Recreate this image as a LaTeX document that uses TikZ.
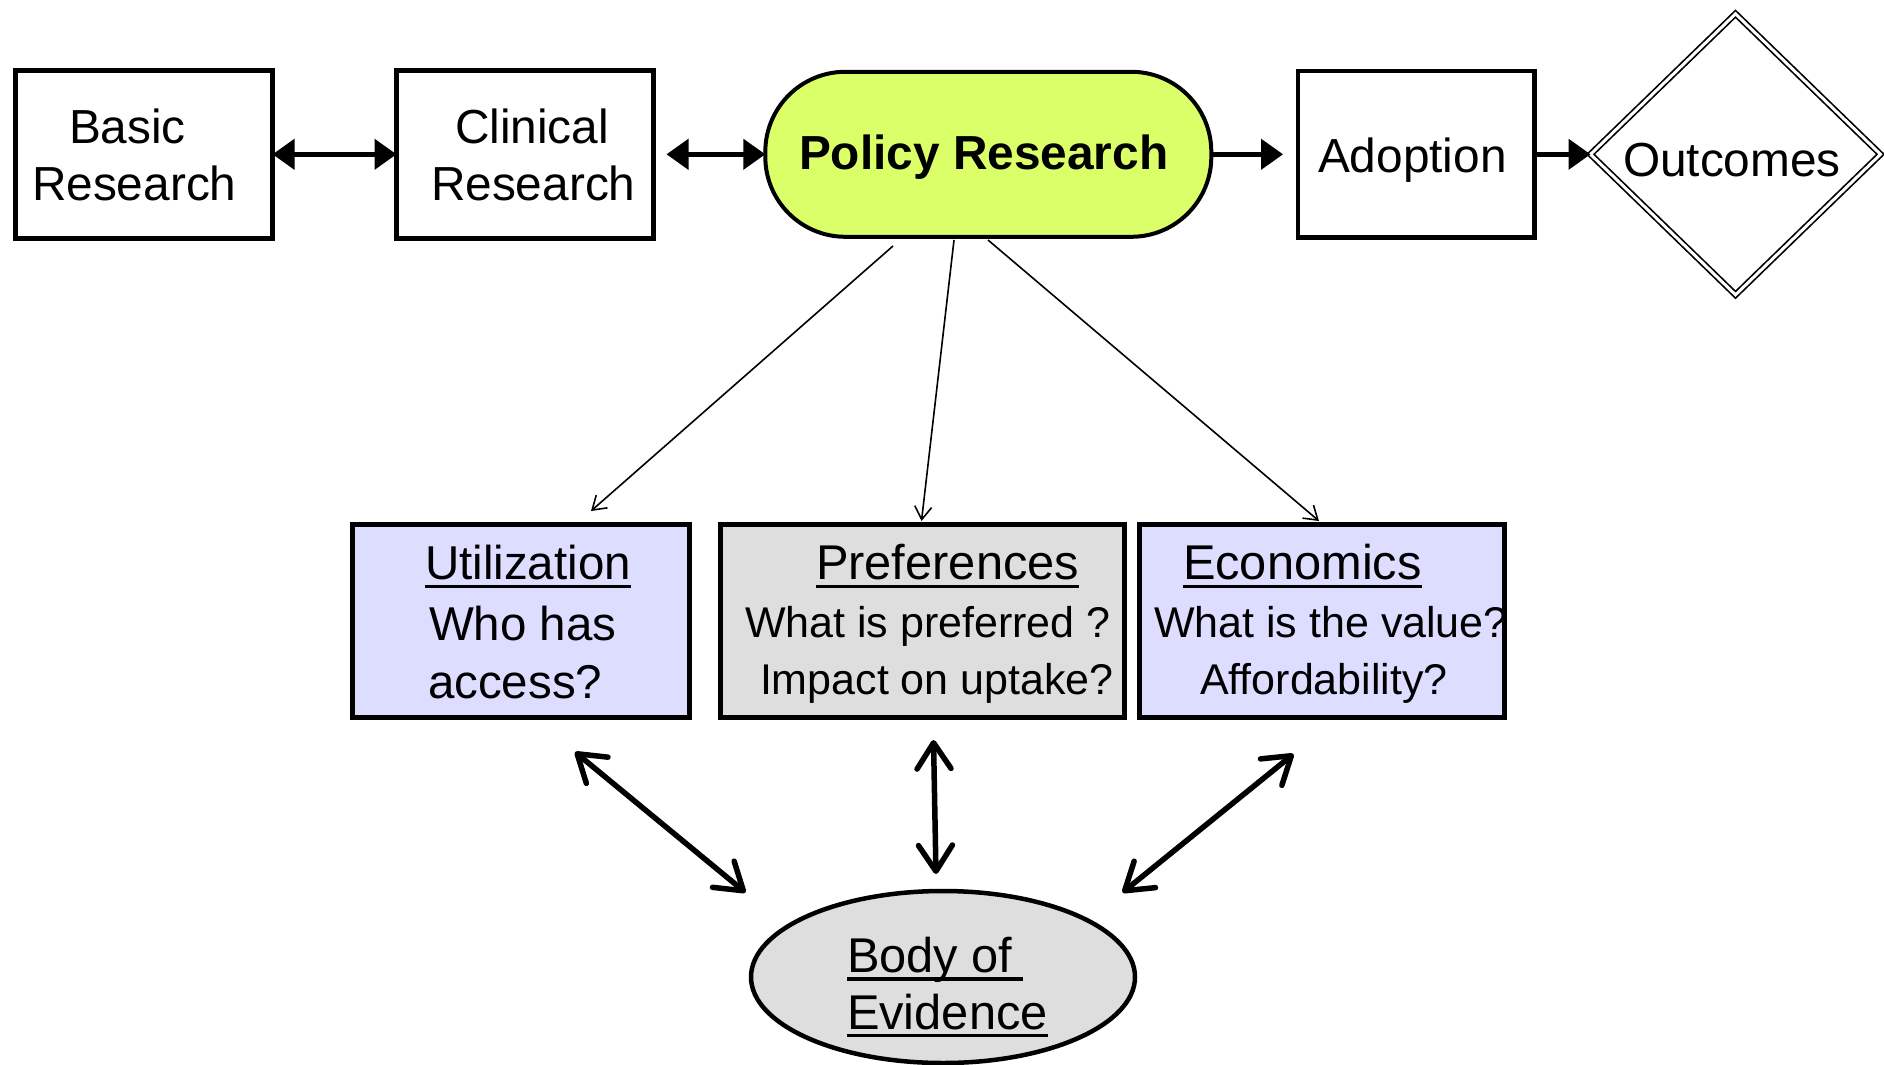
\documentclass[tikz,border=0pt]{standalone}
\usepackage{fontspec}
\setmainfont{Liberation Sans}
\usetikzlibrary{arrows.meta,shapes.geometric}
\definecolor{polgreen}{RGB}{219,255,104}
\definecolor{lav}{RGB}{221,221,255}
\definecolor{lgray}{RGB}{222,222,222}
\begin{document}
\begin{tikzpicture}[x=1pt,y=-1pt,
  box/.style={draw, line width=5pt, rectangle, inner sep=0pt, outer sep=0pt},
  txt/.style={inner sep=0pt, outer sep=0pt, anchor=base west},
  fA/.style={font=\fontsize{47.8}{55}\selectfont},
  fB/.style={font=\fontsize{47.8}{55}\selectfont\bfseries},
  fH/.style={font=\fontsize{48.8}{56}\selectfont},
  fU/.style={font=\fontsize{47.5}{55}\selectfont},
  fS/.style={font=\fontsize{43}{50}\selectfont},
  ul/.style={line width=3.5pt},
  trib/.style={line width=4.5pt, arrows={Triangle[length=22pt,width=30pt]-Triangle[length=22pt,width=30pt]}},
  trie/.style={line width=4.5pt, arrows={-Triangle[length=22pt,width=30pt]}},
  thinarr/.style={line width=1.6pt, arrows={-Straight Barb[length=13pt,width=17pt]}},
  dbl/.style={line width=5.5pt, line cap=round, arrows={Straight Barb[length=26pt,width=34pt,round]-Straight Barb[length=26pt,width=34pt,round]}}
]
\useasboundingbox (0,0) rectangle (1884,1065);

% top row
\node[box, minimum width=256.7pt, minimum height=167.5pt] (bb) at (144.2,154.3) {};
\node[box, minimum width=257pt, minimum height=167.5pt] (cb) at (525,154.3) {};
\node[draw, line width=4pt, fill=polgreen, rounded corners=80pt, minimum width=446pt, minimum height=165pt, inner sep=0pt, outer sep=0pt] (pr) at (988.3,154.3) {};
\node[box, line width=4.5pt, minimum width=236.5pt, minimum height=166.5pt] (ad) at (1416.3,154.3) {};
\node[draw, diamond, line width=1.7pt, double, double distance=3pt, minimum width=290pt, minimum height=281pt, inner sep=0pt, outer sep=0pt] (oc) at (1735.5,154.3) {};

\node[txt,fA] (tb1) at (69,143) {Basic};
\node[txt,fA] (tb2) at (32,200) {Research};
\node[txt,fA] (tc1) at (455,143) {Clinical};
\node[txt,fA] (tc2) at (431,200) {Research};
\node[txt,fB] (tpr) at (799,169) {Policy Research};
\node[txt,fA] (tad) at (1318,172) {Adoption};
\node[txt,fA] (tout) at (1623,176) {Outcomes};

% top connectors
\draw[trib] (bb.east) -- (cb.west);
\draw[trib, shorten <=13pt] (cb.east) -- (pr.west);
\draw[trie, shorten >=15pt] (pr.east) -- (ad.west);
\draw[trie] (ad.east) -- (oc.west);

% lower boxes
\node[box, fill=lav, minimum width=336.7pt, minimum height=193.3pt] (ut) at (520.8,620.8) {};
\node[box, fill=lgray, minimum width=403.4pt, minimum height=193.3pt] (pf) at (922.5,620.8) {};
\node[box, fill=lav, minimum width=365pt, minimum height=193.3pt] (ec) at (1321.5,620.8) {};
\node[draw, ellipse, line width=4.5pt, fill=lgray, minimum width=384pt, minimum height=172pt, inner sep=0pt, outer sep=0pt] (ev) at (943,977) {};

\node[txt,fU] (tu1) at (425,579) {Utilization};
\node[txt,fU] (tu2) at (429,640) {Who has};
\node[txt,fU] (tu3) at (428,698) {access?};
\node[txt,fH] (tp1) at (816,579) {Preferences};
\node[txt,fS] (tp2) at (745,637) {What is preferred ?};
\node[txt,fS] (tp3) at (760,694) {Impact on uptake?};
\node[txt,fH] (te1) at (1183,579) {Economics};
\node[txt,fS] (te2) at (1154,637) {What is the value?};
\node[txt,fS] (te3) at (1200,694) {Affordability?};
\node[txt,fH] (tv1) at (847,972) {Body of};
\node[txt,fH] (tv2) at (847,1029) {Evidence};

% underlines
\draw[ul] ([yshift=-7.5pt]tu1.base west) -- ([yshift=-7.5pt]tu1.base east);
\draw[ul] ([yshift=-7.5pt]tp1.base west) -- ([yshift=-7.5pt]tp1.base east);
\draw[ul] ([yshift=-7.5pt]te1.base west) -- ([yshift=-7.5pt]te1.base east);
\draw[ul] ([yshift=-7pt]tv1.base west) -- ++(176,0);
\draw[ul] ([yshift=-6.5pt]tv2.base west) -- ([yshift=-6.5pt]tv2.base east);

% thin arrows from Policy Research
\coordinate (s1) at (893,246);
\coordinate (e1) at (591,511);
\coordinate (s2) at (954,240);
\coordinate (e2) at (921.5,521);
\coordinate (s3) at (988,240);
\coordinate (e3) at (1319,521);
\draw[thinarr] (s1) -- (e1);
\draw[thinarr] (s2) -- (e2);
\draw[thinarr] (s3) -- (e3);

% double arrows to Body of Evidence
\coordinate (d1a) at (575,752);
\coordinate (d1b) at (745.5,892.5);
\coordinate (d2a) at (933.5,740);
\coordinate (d2b) at (936,874);
\coordinate (d3a) at (1293.5,754);
\coordinate (d3b) at (1122.5,892.5);
\draw[dbl] (d1a) -- (d1b);
\draw[dbl] (d2a) -- (d2b);
\draw[dbl] (d3a) -- (d3b);
\end{tikzpicture}
\end{document}
